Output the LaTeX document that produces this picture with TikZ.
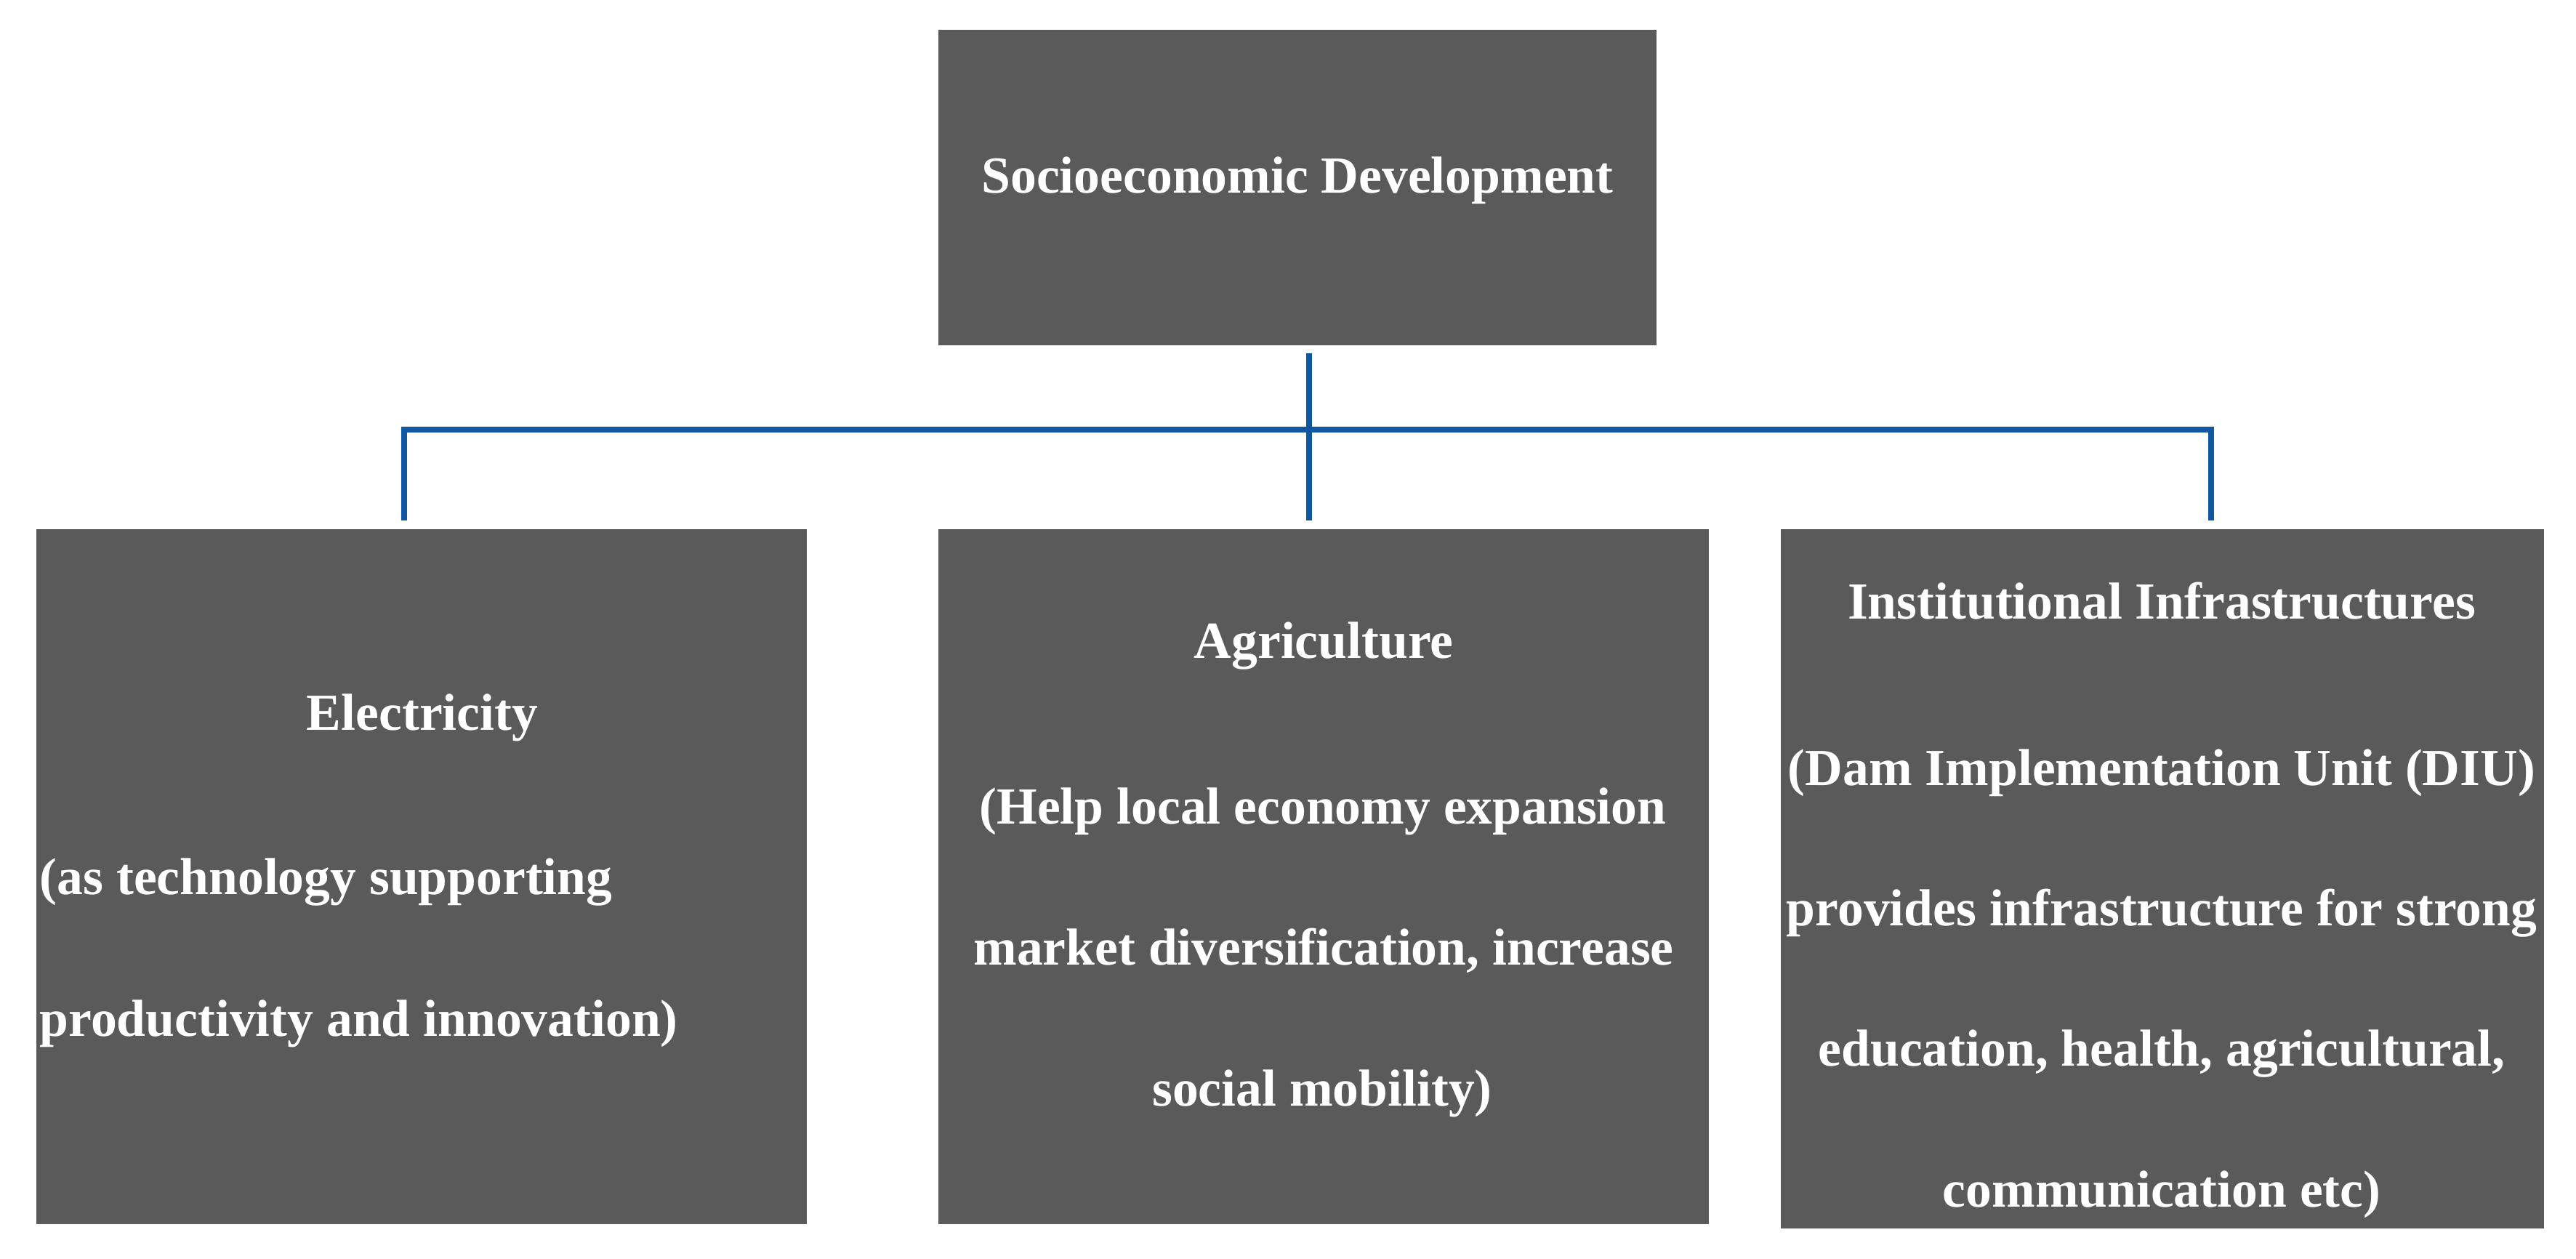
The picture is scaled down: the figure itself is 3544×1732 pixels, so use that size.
\documentclass[tikz,border=0pt]{standalone}
\usepackage{fontspec}
\setmainfont{Liberation Serif}
\definecolor{boxgray}{HTML}{5A5A5A}
\definecolor{linkblue}{HTML}{0F57A0}
\begin{document}
\begin{tikzpicture}[x=0.25pt,y=-0.25pt,
  box/.style={fill=boxgray, draw=none, inner sep=0pt, rectangle},
  txt/.style={text=white, font=\fontsize{17.9}{21}\selectfont\bfseries, anchor=base, inner sep=0pt},
  txtl/.style={txt, anchor=base west},
  conn/.style={draw=linkblue, line width=2pt, line cap=butt, line join=miter}]
\fill[white] (0,0) rectangle (3544,1732);
\useasboundingbox (0,0) rectangle (3544,1732);

% boxes
\node[box, minimum width=247pt, minimum height=108.5pt] (top) at (1785,258) {};
\node[box, minimum width=265pt, minimum height=239pt] (elec) at (580,1206) {};
\node[box, minimum width=265pt, minimum height=239pt] (agri) at (1821,1206) {};
\node[box, minimum width=262.5pt, minimum height=240.5pt] (inst) at (2975,1209) {};

% texts
\node[txt] (t0) at (1785,266) {Socioeconomic Development};

\node[txt] (e1) at (581,1004) {Electricity};
\node[txtl] (e2) at (54,1230) {(as technology supporting};
\node[txtl] (e3) at (54,1425) {productivity and innovation)};

\node[txt] (a1) at (1821,905) {Agriculture};
\node[txt] (a2) at (1820,1133) {(Help local economy expansion};
\node[txt] (a3) at (1821,1327) {market diversification, increase};
\node[txt] (a4) at (1819,1521) {social mobility)};

\node[txt] (i1) at (2974,851) {Institutional Infrastructures};
\node[txt] (i2) at (2974,1080) {(Dam Implementation Unit (DIU)};
\node[txt] (i3) at (2974,1273) {provides infrastructure for strong};
\node[txt] (i4) at (2974,1466) {education, health, agricultural,};
\node[txt] (i5) at (2974,1660) {communication etc)};

% connectors
\coordinate (jtop) at (1801,486);
\coordinate (jmid) at (1801,591);
\coordinate (jl) at (556,591);
\coordinate (jr) at (3042,591);
\coordinate (el) at (556,716);
\coordinate (em) at (1801,716);
\coordinate (er) at (3042,716);
\draw[conn] (jtop) -- (em);
\draw[conn] (el) -- (jl) -- (jr) -- (er);
\end{tikzpicture}
\end{document}
